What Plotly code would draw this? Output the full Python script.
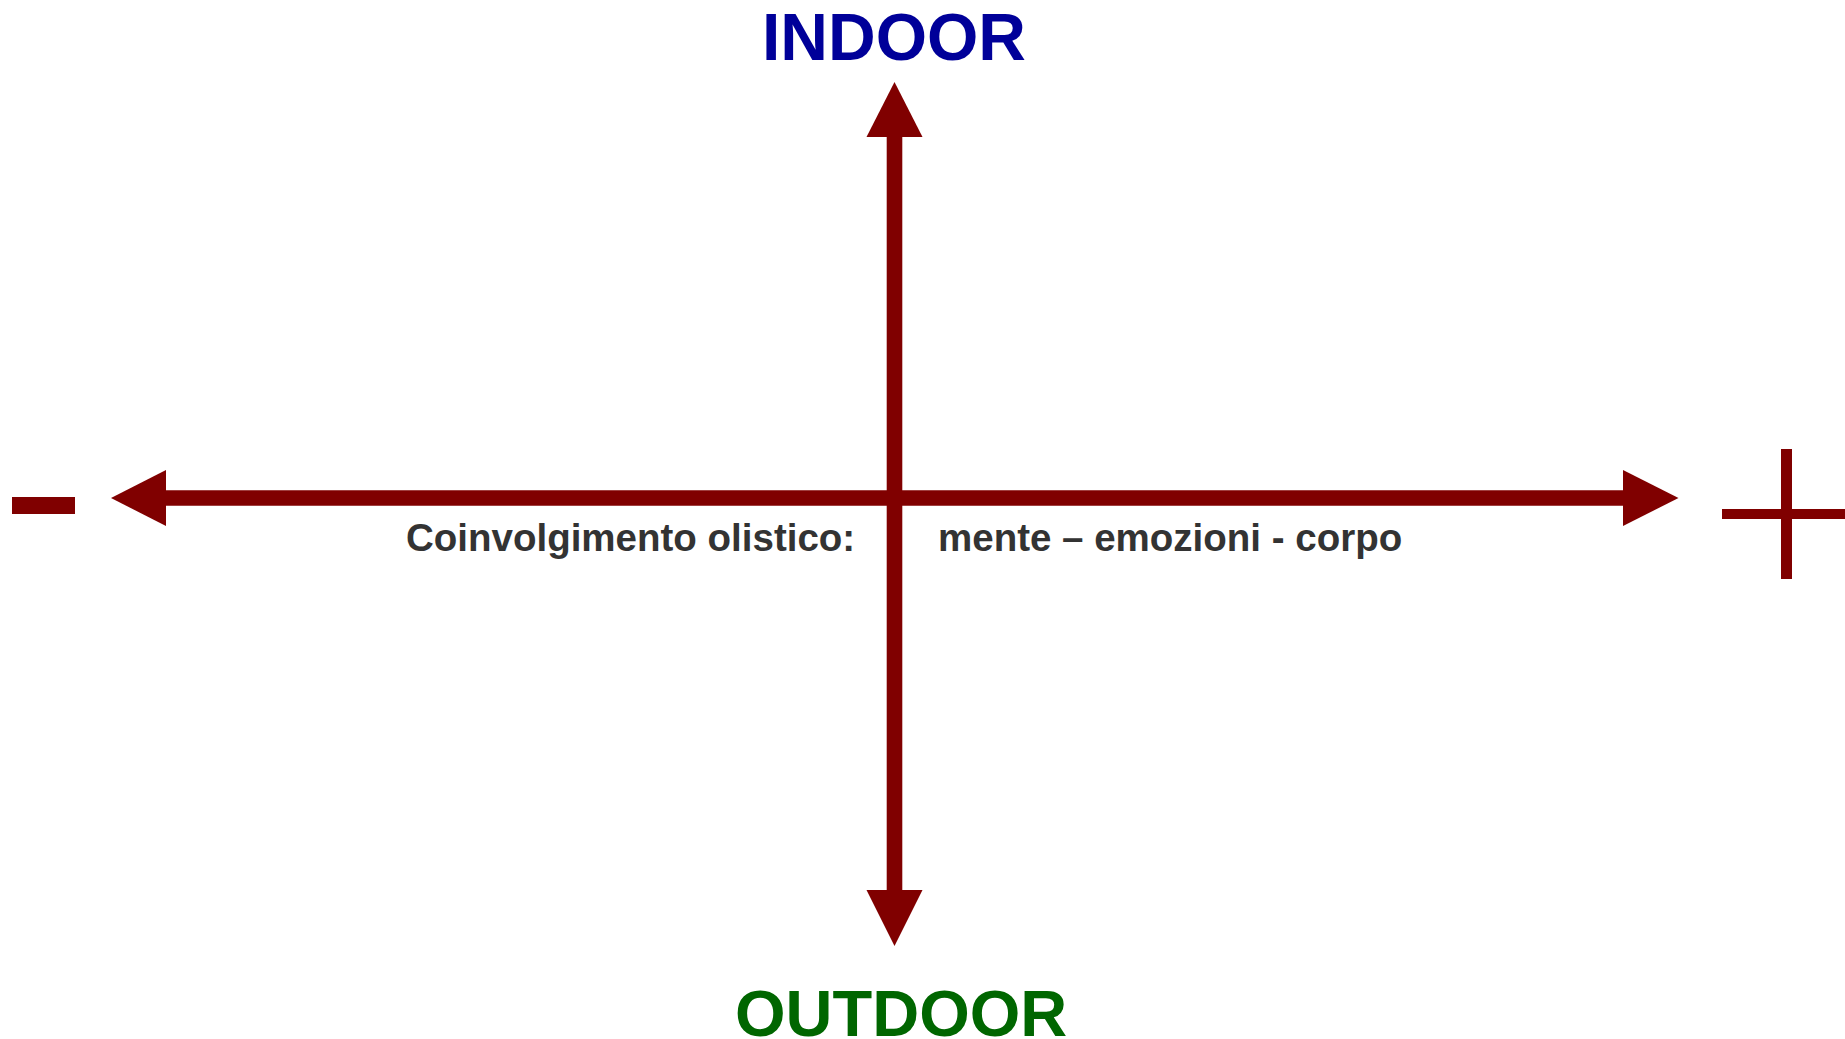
import plotly.graph_objects as go

# Diagram content (text)
top_label = "INDOOR"
bottom_label = "OUTDOOR"
axis_caption_left = "Coinvolgimento olistico:"
axis_caption_right = "mente – emozioni - corpo"

W, H = 1845, 1039
RED = "#800000"

# geometry in pixel-like coordinates (layout, not data)
cx, cy = 894.5, 498
shaft = 15.6
head_w = 56
left_tip, left_base = 111, 166
right_base, right_tip = 1623, 1678.5
top_tip, top_base = 82, 137
bot_base, bot_tip = 890, 946

shapes = []
shapes.append(dict(type="rect", x0=left_base - 1, x1=right_base + 1, y0=cy - shaft / 2, y1=cy + shaft / 2,
                   fillcolor=RED, line=dict(width=0), layer="above"))
shapes.append(dict(type="rect", x0=cx - shaft / 2, x1=cx + shaft / 2, y0=top_base - 1, y1=bot_base + 1,
                   fillcolor=RED, line=dict(width=0), layer="above"))
hw = head_w / 2
shapes.append(dict(type="path", path=f"M {left_tip},{cy} L {left_base},{cy-hw} L {left_base},{cy+hw} Z",
                   fillcolor=RED, line=dict(width=0)))
shapes.append(dict(type="path", path=f"M {right_tip},{cy} L {right_base},{cy-hw} L {right_base},{cy+hw} Z",
                   fillcolor=RED, line=dict(width=0)))
shapes.append(dict(type="path", path=f"M {cx},{top_tip} L {cx-hw},{top_base} L {cx+hw},{top_base} Z",
                   fillcolor=RED, line=dict(width=0)))
shapes.append(dict(type="path", path=f"M {cx},{bot_tip} L {cx-hw},{bot_base} L {cx+hw},{bot_base} Z",
                   fillcolor=RED, line=dict(width=0)))
# minus sign
shapes.append(dict(type="rect", x0=12, x1=75, y0=497, y1=514, fillcolor=RED, line=dict(width=0)))
# plus sign
shapes.append(dict(type="rect", x0=1722, x1=1851, y0=509, y1=519, fillcolor=RED, line=dict(width=0)))
shapes.append(dict(type="rect", x0=1781, x1=1792, y0=449, y1=579, fillcolor=RED, line=dict(width=0)))

TITLE_FONT = "Liberation Sans, Arial, sans-serif"
CAPTION_FONT = "Liberation Sans, Arial, sans-serif"
annotations = [
    dict(x=893.5, y=37, text=f"<b>{top_label}</b>", showarrow=False, xanchor="center", yanchor="middle",
         font=dict(family=TITLE_FONT, size=66, color="#000099")),
    dict(x=901, y=1013, text=f"<b>{bottom_label}</b>", showarrow=False, xanchor="center", yanchor="middle",
         font=dict(family=TITLE_FONT, size=65, color="#006600")),
    dict(x=404, y=537, text=f"<b>{axis_caption_left}</b>", showarrow=False, xanchor="left", yanchor="middle",
         font=dict(family=CAPTION_FONT, size=38.5, color="#333333")),
    dict(x=936, y=537, text=f"<b>{axis_caption_right}</b>", showarrow=False, xanchor="left", yanchor="middle",
         font=dict(family=CAPTION_FONT, size=38.5, color="#333333")),
]

fig = go.Figure()
fig.add_trace(go.Scatter(x=[cx], y=[cy], mode="markers", marker=dict(opacity=0), hoverinfo="skip", showlegend=False))
fig.update_layout(
    width=W, height=H, margin=dict(l=0, r=0, t=0, b=0),
    paper_bgcolor="white", plot_bgcolor="white",
    xaxis=dict(range=[0, W], visible=False, fixedrange=True),
    yaxis=dict(range=[H, 0], visible=False, fixedrange=True),
    shapes=shapes, annotations=annotations, showlegend=False,
)
fig.write_html("out.html", config={"displayModeBar": False},
               post_script="document.body.style.margin='0';document.body.style.overflow='hidden';")
